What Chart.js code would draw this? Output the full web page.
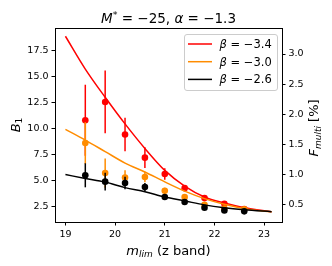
<!DOCTYPE html>
<html>
<head>
<meta charset="utf-8">
<script src="https://cdn.jsdelivr.net/npm/chart.js@4"></script>
<style>
  body { margin: 0; background: #fff; }
  #wrap { width: 332px; height: 266px; }
</style>
</head>
<body>
<div id="wrap"><canvas id="myChart"></canvas></div>
<script>
// measured B1 at each magnitude limit, with errors
const mLim = [19.4, 19.8, 20.2, 20.6, 21.0, 21.4, 21.8, 22.2, 22.6];
const b1Red = [10.8, 12.55, 9.43, 7.22, 5.65, 4.3, 3.35, 2.8, 2.3];
const errRed = [3.4, 3.0, 1.6, 1.0, 0.55, 0.3, 0.2, 0.15, 0.1];
const b1Orange = [8.62, 5.75, 5.31, 5.37, 4.05, 3.45, 2.7, 2.35, 2.27];
const errOrange = [2.0, 1.4, 0.7, 0.5, 0.3, 0.2, 0.15, 0.1, 0.1];
const b1Black = [5.53, 4.92, 4.79, 4.4, 3.45, 2.97, 2.43, 2.17, 2.08];
const errBlack = [1.15, 0.85, 0.6, 0.4, 0.25, 0.15, 0.1, 0.1, 0.1];

// model curves
const mModel = [19.0, 19.4, 19.8, 20.2, 20.6, 21.0, 21.4, 21.8, 22.2, 22.6, 23.15];
const modelRed = [18.84, 15.7, 13.0, 10.45, 8.1, 6.0, 4.5, 3.45, 2.87, 2.43, 2.05];
const modelOrange = [9.93, 8.9, 7.8, 6.7, 5.85, 4.9, 4.02, 3.3, 2.75, 2.34, 2.03];
const modelBlack = [5.6, 5.23, 4.88, 4.35, 3.95, 3.45, 3.08, 2.7, 2.43, 2.24, 2.05];

const betaLabels = ["-3.4", "-3.0", "-2.6"];
const colors = ["#ff0000", "#ff8c00", "#000000"];

const xTicks = [19, 20, 21, 22, 23];
const yTicks = [2.5, 5.0, 7.5, 10.0, 12.5, 15.0, 17.5];
const y2Ticks = [0.5, 1.0, 1.5, 2.0, 2.5, 3.0];

const FONT = '"DejaVu Sans", sans-serif';
const tickFont = { family: FONT, size: 9.5 };

function pts(xs, ys) {
  return xs.map((x, i) => ({ x: x, y: ys[i] }));
}

function curve(label, ys, color, order) {
  return {
    type: "line",
    label: label,
    data: pts(mModel, ys),
    borderColor: color,
    borderWidth: 1.5,
    pointRadius: 0,
    cubicInterpolationMode: "monotone",
    fill: false,
    order: order,
  };
}

function dots(ys, errs, color, order) {
  return {
    type: "scatter",
    data: pts(mLim, ys),
    yErr: errs,
    backgroundColor: color,
    borderWidth: 0,
    pointRadius: 3.3,
    order: order,
  };
}

// draw mixed italic / sub / superscript runs
function drawRuns(ctx, runs, x, y) {
  let total = 0;
  for (let r of runs) {
    ctx.font = (r.it ? "italic " : "") + r.size + "px " + FONT;
    r.w = ctx.measureText(r.t).width;
    total += r.w;
  }
  let cx = x - total / 2;
  for (let r of runs) {
    ctx.font = (r.it ? "italic " : "") + r.size + "px " + FONT;
    ctx.fillText(r.t, cx, y + (r.dy || 0));
    cx += r.w;
  }
}

const errorBars = {
  id: "errorBars",
  beforeDatasetDraw(chart, args) {
    const ds = chart.data.datasets[args.index];
    if (!ds.yErr) return;
    const ctx = chart.ctx;
    const xs = chart.scales.x;
    const ys = chart.scales.y;
    ctx.save();
    ctx.strokeStyle = ds.backgroundColor;
    ctx.lineWidth = 1.5;
    ds.data.forEach((p, i) => {
      const px = xs.getPixelForValue(p.x);
      ctx.beginPath();
      ctx.moveTo(px, ys.getPixelForValue(p.y - ds.yErr[i]));
      ctx.lineTo(px, ys.getPixelForValue(p.y + ds.yErr[i]));
      ctx.stroke();
    });
    ctx.restore();
  },
};

const decorations = {
  id: "decorations",
  afterDraw(chart) {
    const ctx = chart.ctx;
    const a = chart.chartArea;
    ctx.save();
    // frame
    ctx.strokeStyle = "#000";
    ctx.lineWidth = 1;
    ctx.strokeRect(Math.round(a.left) + 0.5, Math.round(a.top) + 0.5,
      Math.round(a.right - a.left), Math.round(a.bottom - a.top));

    ctx.fillStyle = "#000";
    ctx.textBaseline = "alphabetic";
    // title
    drawRuns(ctx, [
      { t: "M", it: true, size: 13.5 },
      { t: "*", size: 9.5, dy: -5 },
      { t: " = \u221225, ", size: 13.5 },
      { t: "\u03b1", it: true, size: 13.5 },
      { t: " = \u22121.3", size: 13.5 },
    ], (a.left + a.right) / 2, 22.5);

    // x label
    drawRuns(ctx, [
      { t: "m", it: true, size: 13 },
      { t: "lim", it: true, size: 9, dy: 2.5 },
      { t: " (z band)", size: 13 },
    ], (a.left + a.right) / 2, 254.5);

    // left y label
    ctx.save();
    ctx.translate(19.5, (a.top + a.bottom) / 2);
    ctx.rotate(-Math.PI / 2);
    drawRuns(ctx, [
      { t: "B", it: true, size: 13 },
      { t: "1", size: 9, dy: 2.5 },
    ], 0, 0);
    ctx.restore();

    // right y label
    ctx.save();
    ctx.translate(318, (a.top + a.bottom) / 2 + 3);
    ctx.rotate(-Math.PI / 2);
    drawRuns(ctx, [
      { t: "F", it: true, size: 13 },
      { t: "multi", it: true, size: 9, dy: 2.5 },
      { t: " [%]", size: 13 },
    ], 0, 0);
    ctx.restore();

    // legend box
    const bx = 184, by = 34, bw = 93, bh = 56;
    ctx.fillStyle = "rgba(255,255,255,0.8)";
    ctx.strokeStyle = "#cccccc";
    ctx.beginPath();
    ctx.roundRect(bx + 0.5, by + 0.5, bw, bh, 2.5);
    ctx.fill();
    ctx.stroke();
    betaLabels.forEach((b, i) => {
      const ly = 44 + i * 17.7;
      ctx.strokeStyle = colors[i];
      ctx.lineWidth = 1.5;
      ctx.beginPath();
      ctx.moveTo(188, ly);
      ctx.lineTo(212, ly);
      ctx.stroke();
      ctx.fillStyle = "#000";
      ctx.textAlign = "left";
      ctx.font = "italic 11.5px " + FONT;
      ctx.fillText("\u03b2", 219.5, ly + 4);
      const w = ctx.measureText("\u03b2").width;
      ctx.font = "11.5px " + FONT;
      ctx.fillText(" = " + b.replace("-", "\u2212"), 219.5 + w, ly + 4);
    });
    ctx.restore();
  },
};

const data = {
  datasets: [
    curve("\u03b2 = " + betaLabels[0], modelRed, colors[0], 9),
    dots(b1Red, errRed, colors[0], 8),
    curve("\u03b2 = " + betaLabels[1], modelOrange, colors[1], 6),
    dots(b1Orange, errOrange, colors[1], 5),
    curve("\u03b2 = " + betaLabels[2], modelBlack, colors[2], 3),
    dots(b1Black, errBlack, colors[2], 2),
  ],
};

const axisGrid = { drawOnChartArea: false, tickLength: 3.5, tickColor: "#000", tickWidth: 1 };

const config = {
  type: "scatter",
  data: data,
  options: {
    responsive: true,
    maintainAspectRatio: false,
    animation: false,
    layout: { padding: { left: 15, right: 20, top: 28, bottom: 24 } },
    plugins: {
      legend: { display: false },
      tooltip: { enabled: false },
      title: { display: false },
    },
    scales: {
      x: {
        type: "linear",
        min: 18.79,
        max: 23.36,
        afterBuildTicks: (s) => { s.ticks = xTicks.map((v) => ({ value: v })); },
        afterFit: (s) => { s.height = 20; },
        ticks: { font: tickFont, color: "#000", padding: 3, maxRotation: 0, callback: (v) => String(v) },
        grid: axisGrid,
        border: { color: "#000", width: 1 },
      },
      y: {
        type: "linear",
        position: "left",
        min: 1.06,
        max: 19.63,
        afterBuildTicks: (s) => { s.ticks = yTicks.map((v) => ({ value: v })); },
        afterFit: (s) => { s.width = 40; },
        ticks: { font: tickFont, color: "#000", padding: 3, callback: (v) => v.toFixed(1) },
        grid: axisGrid,
        border: { color: "#000", width: 1 },
      },
      y2: {
        type: "linear",
        position: "right",
        min: 0.205,
        max: 3.433,
        afterBuildTicks: (s) => { s.ticks = y2Ticks.map((v) => ({ value: v })); },
        afterFit: (s) => { s.width = 30; },
        ticks: { font: tickFont, color: "#000", padding: 3, callback: (v) => v.toFixed(1) },
        grid: axisGrid,
        border: { color: "#000", width: 1 },
      },
    },
  },
  plugins: [errorBars, decorations],
};

var myChart = new Chart(document.getElementById("myChart"), config);
</script>
</body>
</html>
